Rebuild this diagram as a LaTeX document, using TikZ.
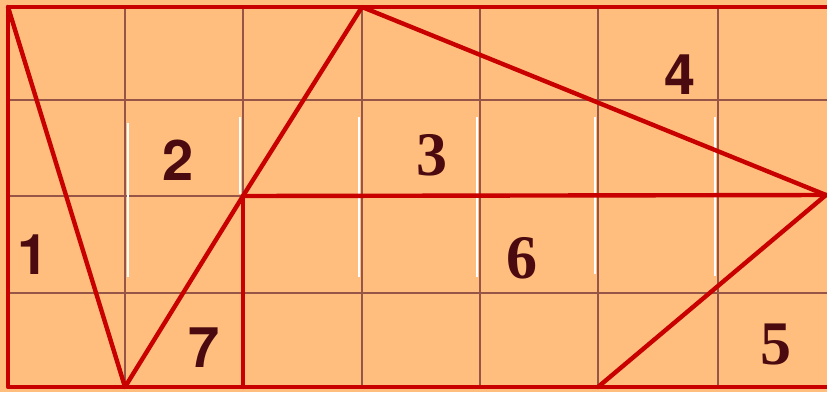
\documentclass[tikz,border=0pt]{standalone}
\usepackage{fontspec}
\setmainfont{Liberation Serif}
\newfontfamily\digsans{TeX Gyre Heros}
\definecolor{bgorange}{RGB}{255,190,125}
\definecolor{gridbrown}{RGB}{150,85,70}
\definecolor{redline}{RGB}{200,0,0}
\definecolor{digit}{RGB}{75,10,15}
\tikzset{
  gridline/.style={draw=gridbrown, line width=2.8pt},
  hilite/.style={draw=white, line width=1.8pt},
  redseg/.style={draw=redline, line width=4.4pt, line cap=round, line join=round},
  numsans/.style={font=\digsans\bfseries\fontsize{56}{56}\selectfont, text=digit, inner sep=0pt},
  numserif/.style={font=\rmfamily\bfseries\fontsize{62}{62}\selectfont, text=digit, inner sep=0pt}
}
\begin{document}
\begin{tikzpicture}[x=1pt,y=-1pt]
\useasboundingbox (0,0) rectangle (827,392);
\fill[bgorange] (0,0) rectangle (827,392);
% grid
\foreach \x in {125,243,362,480,598,718} \draw[gridline] (\x,7) -- (\x,387);
\foreach \y in {100,293} \draw[gridline] (8,\y) -- (827,\y);
\draw[gridline] (8,196) -- (243,196);
% white highlights
\draw[hilite] (128,123) -- (128,277);
\draw[hilite] (240,117) -- (240,194);
\draw[hilite] (359,117) -- (359,277);
\draw[hilite] (477,117) -- (477,277);
\draw[hilite] (595,117) -- (595,274);
\draw[hilite] (715,117) -- (715,276);
% vertices
\coordinate (TL) at (8,7);
\coordinate (TR) at (830,7);
\coordinate (BL) at (8,387);
\coordinate (BR) at (830,387);
\coordinate (A) at (125,387);
\coordinate (B) at (243,196);
\coordinate (C) at (362,7);
\coordinate (D) at (826,195);
\coordinate (E) at (243,387);
\coordinate (F) at (598,387);
% outer frame
\draw[redseg] (TR) -- (TL) -- (BL) -- (BR);
% partition lines
\draw[redseg] (TL) -- (A) -- (B) -- (C) -- (D);
\draw[redseg] (B) -- (D);
\draw[redseg] (B) -- (E);
\draw[redseg] (F) -- (D);
% labels
\node[numsans] (n1) at (33,255) {1};
\node[numsans] (n2) at (178,160) {2};
\node[numserif] (n3) at (432,155) {3};
\node[numsans] (n4) at (680,75) {4};
\node[numserif] (n5) at (776,344) {5};
\node[numserif] (n6) at (522,258) {6};
\node[numsans] (n7) at (204,348) {7};
\end{tikzpicture}
\end{document}
